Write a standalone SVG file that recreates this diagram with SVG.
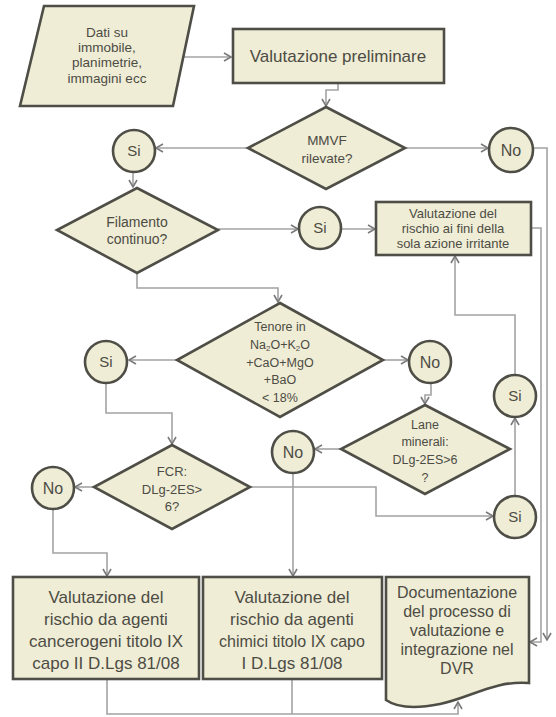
<svg xmlns="http://www.w3.org/2000/svg" width="556" height="717" viewBox="0 0 556 717">
<defs>
<marker id="arr" markerUnits="userSpaceOnUse" markerWidth="12" markerHeight="12" refX="8" refY="5" orient="auto">
<path d="M1,1 L8,5 L1,9" fill="none" stroke="#7a7a7a" stroke-width="1.6"/>
</marker>
</defs>
<style>
.n{fill:#efedd6;stroke:#4e4e47;stroke-width:2.6}
.c{fill:none;stroke:#a3a3a3;stroke-width:1.6}
.a{marker-end:url(#arr)}
text{font-family:"Liberation Sans",Arial,sans-serif;fill:#4d4c44;text-anchor:middle}
</style>
<rect width="556" height="717" fill="#ffffff"/>
<g id="connectors">
<path class="c a" d="M183,57 H231"/>
<path class="c a" d="M338,83 V90 H326 V106"/>
<path class="c a" d="M248,148 H156"/>
<path class="c a" d="M405,148 H488"/>
<path class="c a" d="M533,148 H547 V640"/>
<path class="c a" d="M133,172 V187"/>
<path class="c a" d="M218,229 H298"/>
<path class="c a" d="M341,229 H375"/>
<path class="c a" d="M531,228 H541 V642 H530"/>
<path class="c a" d="M137,273 V288 H278 V302"/>
<path class="c a" d="M177,360 H129"/>
<path class="c a" d="M383,360 H408"/>
<path class="c a" d="M106,383 V413 H172 V444"/>
<path class="c a" d="M94,487 H75"/>
<path class="c a" d="M250,487 H376 V516 H493"/>
<path class="c a" d="M431,383 V395 H425 V404"/>
<path class="c a" d="M341,449 H315"/>
<path class="c a" d="M515,496 V418"/>
<path class="c a" d="M515,375 V315 H455 V256"/>
<path class="c a" d="M53,509 V553 H107 V576"/>
<path class="c a" d="M293,473 V576"/>
<path class="c a" d="M107,679 V714 H458 V702"/>
<path class="c" d="M292,679 V714"/>
</g>
<g id="dati">
<polygon class="n" points="44,6 194,6 173,106 20,106"/>
<text font-size="13.5" x="107" y="37">Dati su</text>
<text font-size="13.5" x="107" y="52">immobile,</text>
<text font-size="13.5" x="107" y="67">planimetrie,</text>
<text font-size="13.5" x="107" y="83">immagini ecc</text>
</g>
<g id="preliminare">
<rect class="n" x="233" y="29" width="211" height="54"/>
<text font-size="17" x="338" y="62">Valutazione preliminare</text>
</g>
<g id="mmvf">
<polygon class="n" points="326,107 405,148 326,189 248,148"/>
<text font-size="13.5" x="327" y="145">MMVF</text>
<text font-size="13.5" x="327" y="163">rilevate?</text>
</g>
<g id="si1">
<circle class="n" cx="134" cy="151" r="21"/>
<text font-size="15" x="134" y="156">Si</text>
</g>
<g id="no1">
<circle class="n" cx="511" cy="150" r="22"/>
<text font-size="16" x="511" y="156">No</text>
</g>
<g id="filamento">
<polygon class="n" points="137,188 218,230 137,273 57,230"/>
<text font-size="14" x="137" y="227">Filamento</text>
<text font-size="14" x="137" y="244">continuo?</text>
</g>
<g id="si2">
<circle class="n" cx="320" cy="228" r="21"/>
<text font-size="15" x="320" y="233">Si</text>
</g>
<g id="irritante">
<rect class="n" x="376" y="202" width="155" height="53"/>
<text font-size="13" x="453" y="218">Valutazione del</text>
<text font-size="13" x="453" y="233">rischio ai fini della</text>
<text font-size="13" x="453" y="248">sola azione irritante</text>
</g>
<g id="tenore">
<polygon class="n" points="280,303 383,360 280,417 177,360"/>
<text font-size="12.5" x="280" y="331">Tenore in</text>
<text font-size="12.5" x="280" y="349">Na<tspan font-size="8" dy="2">2</tspan><tspan dy="-2">O+K</tspan><tspan font-size="8" dy="2">2</tspan><tspan dy="-2">O</tspan></text>
<text font-size="12.5" x="280" y="367">+CaO+MgO</text>
<text font-size="12.5" x="280" y="384">+BaO</text>
<text font-size="12.5" x="280" y="402">&lt; 18%</text>
</g>
<g id="si3">
<circle class="n" cx="106" cy="362" r="21"/>
<text font-size="15" x="106" y="367">Si</text>
</g>
<g id="no2">
<circle class="n" cx="430" cy="362" r="21"/>
<text font-size="16" x="430" y="368">No</text>
</g>
<g id="fcr">
<polygon class="n" points="172,445 250,487 172,529 94,487"/>
<text font-size="13" x="172" y="476">FCR:</text>
<text font-size="13" x="172" y="494">DLg-2ES&gt;</text>
<text font-size="13" x="172" y="511">6?</text>
</g>
<g id="no3">
<circle class="n" cx="53" cy="488" r="21"/>
<text font-size="16" x="53" y="494">No</text>
</g>
<g id="lane">
<polygon class="n" points="425,405 510,449 425,494 341,449"/>
<text font-size="12.5" x="425" y="429">Lane</text>
<text font-size="12.5" x="425" y="446">minerali:</text>
<text font-size="12.5" x="425" y="464">DLg-2ES&gt;6</text>
<text font-size="12.5" x="425" y="482">?</text>
</g>
<g id="no4">
<circle class="n" cx="293" cy="452" r="21"/>
<text font-size="16" x="293" y="458">No</text>
</g>
<g id="si4">
<circle class="n" cx="515" cy="396" r="21"/>
<text font-size="15" x="515" y="401">Si</text>
</g>
<g id="si5">
<circle class="n" cx="515" cy="517" r="21"/>
<text font-size="15" x="515" y="522">Si</text>
</g>
<g id="cancerogeni">
<rect class="n" x="13" y="577" width="186" height="102"/>
<text font-size="17" x="106" y="603">Valutazione del</text>
<text font-size="17" x="106" y="625">rischio da agenti</text>
<text font-size="17" x="106" y="647">cancerogeni titolo IX</text>
<text font-size="17" x="106" y="669">capo II D.Lgs 81/08</text>
</g>
<g id="chimici">
<rect class="n" x="203" y="577" width="179" height="102"/>
<text font-size="17" x="292" y="603">Valutazione del</text>
<text font-size="17" x="292" y="625">rischio da agenti</text>
<text font-size="16" x="292" y="647">chimici titolo IX capo</text>
<text font-size="17" x="292" y="669">I D.Lgs 81/08</text>
</g>
<g id="documentazione">
<path class="n" d="M386,577 H529 V683 C495,680 470,698 440,704 C415,709 396,707 386,700 Z"/>
<text font-size="16" x="457" y="598">Documentazione</text>
<text font-size="16" x="457" y="617">del processo di</text>
<text font-size="16" x="457" y="636">valutazione e</text>
<text font-size="16" x="457" y="655">integrazione nel</text>
<text font-size="16" x="457" y="674">DVR</text>
</g>
</svg>
